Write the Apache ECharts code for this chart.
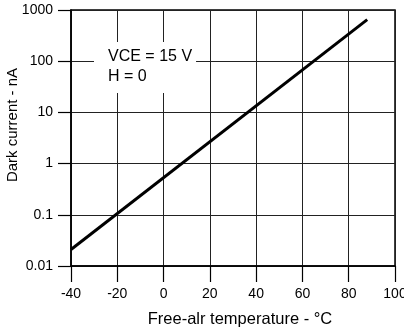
<!DOCTYPE html>
<html><head><meta charset="utf-8">
<script src="https://cdn.jsdelivr.net/npm/echarts@6/dist/echarts.min.js"></script>
<style>html,body{margin:0;padding:0;background:#fff}#c{width:404px;height:331px}</style>
</head><body><div id="c"></div>
<script>
const temperatures = [-40, 88];
const darkCurrent = [0.021, 650];
const xTicks = [-40, -20, 0, 20, 40, 60, 80, 100];
const yTicks = [0.01, 0.1, 1, 10, 100, 1000];
const noteLines = ['VCE = 15 V', 'H = 0'];

const font = '"Liberation Sans", Arial, Helvetica, sans-serif';
const chart = echarts.init(document.getElementById('c'), null, {renderer: 'canvas'});
chart.setOption({
  animation: false,
  backgroundColor: '#fff',
  grid: {left: 71, right: 9, top: 10, bottom: 65, containLabel: false, outerBoundsMode: 'none',
    show: true, borderColor: '#000', borderWidth: 1.5, backgroundColor: 'transparent'},
  xAxis: {
    type: 'value', position: 'bottom', min: xTicks[0], max: xTicks[xTicks.length - 1], interval: 20,
    name: 'Free-alr temperature - °C', nameLocation: 'middle', nameGap: 45, nameMoveOverlap: false,
    nameTextStyle: {fontFamily: font, fontSize: 16.5, color: '#000', padding: [0, 0, 0, 14]},
    axisLine: {show: true, onZero: false, lineStyle: {color: '#000', width: 1.5}},
    axisTick: {show: true, inside: false, length: 16, lineStyle: {color: '#000', width: 1.2}},
    axisLabel: {fontFamily: font, fontSize: 14, color: '#000', margin: 21},
    splitLine: {show: true, lineStyle: {color: '#222', width: 1}}
  },
  yAxis: {
    type: 'log', logBase: 10, min: yTicks[0], max: yTicks[yTicks.length - 1],
    name: 'Dark current - nA', nameLocation: 'middle', nameGap: 51, nameMoveOverlap: false,
    nameTextStyle: {fontFamily: font, fontSize: 15, color: '#000', padding: [0, 0, 0, 26]},
    axisLine: {show: true, onZero: false, lineStyle: {color: '#000', width: 1.5}},
    axisTick: {show: true, inside: false, length: 13, lineStyle: {color: '#000', width: 1.2}},
    axisLabel: {fontFamily: font, fontSize: 14, color: '#000', margin: 18,
      formatter: v => String(+v.toPrecision(6))},
    splitLine: {show: true, lineStyle: {color: '#222', width: 1}},
    minorTick: {show: false}
  },
  graphic: [{
    type: 'text', left: 94, top: 42, z: 50,
    style: {text: noteLines.join('\n'), font: '16px ' + font, fill: '#000', lineHeight: 20,
      backgroundColor: '#fff', padding: [5, 4, 6, 14]}
  }],
  series: [{
    type: 'line', symbol: 'none', z: 10,
    data: temperatures.map((t, i) => [t, darkCurrent[i]]),
    lineStyle: {color: '#000', width: 3}
  }]
});
</script></body></html>
